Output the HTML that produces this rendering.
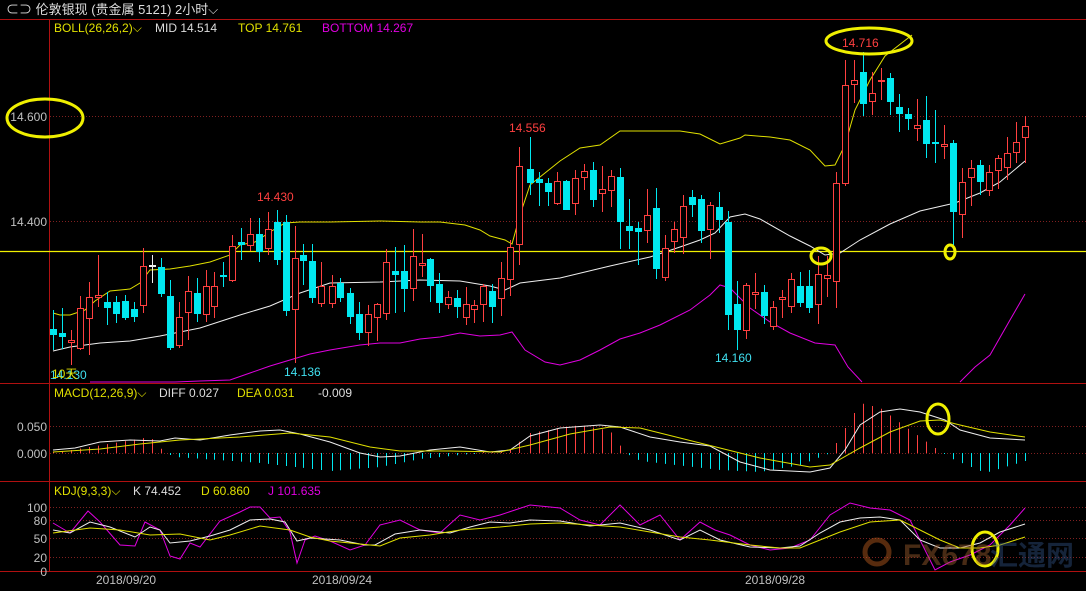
<!DOCTYPE html>
<html><head><meta charset="utf-8"><style>
body{margin:0;background:#000;width:1086px;height:591px;overflow:hidden}
svg{display:block;font-family:"Liberation Sans","Noto Sans CJK SC",sans-serif}
</style></head><body>
<svg id="s" width="1086" height="591" xmlns="http://www.w3.org/2000/svg">
<rect width="1086" height="591" fill="#000"/>
<text x="6" y="14" fill="#ddd" font-size="13">⊂⊃ 伦敦银现 (贵金属 5121)  2小时⌵</text>
<line x1="0" y1="19.5" x2="1086" y2="19.5" stroke="#b01010"/>
<line x1="49.5" y1="19" x2="49.5" y2="572" stroke="#b01010"/>
<line x1="0" y1="383.5" x2="1086" y2="383.5" stroke="#b01010"/>
<line x1="0" y1="481.5" x2="1086" y2="481.5" stroke="#b01010"/>
<line x1="0" y1="571.5" x2="1086" y2="571.5" stroke="#b01010"/>
<g stroke="#802020" stroke-dasharray="1,2">
<line x1="50" y1="116.5" x2="1086" y2="116.5"/><line x1="50" y1="221.5" x2="1086" y2="221.5"/>
<line x1="50" y1="426.5" x2="1086" y2="426.5"/><line x1="50" y1="453.5" x2="1086" y2="453.5"/>
<line x1="50" y1="507.5" x2="1086" y2="507.5"/><line x1="50" y1="520.5" x2="1086" y2="520.5"/>
<line x1="50" y1="538.5" x2="1086" y2="538.5"/><line x1="50" y1="557.5" x2="1086" y2="557.5"/>
</g>
<g font-size="12" fill="#c0c0c0" text-anchor="end">
<text x="47" y="121">14.600</text><text x="47" y="226">14.400</text>
<text x="47" y="431">0.050</text><text x="47" y="458">0.000</text>
<text x="47" y="512">100</text><text x="47" y="525">80</text><text x="47" y="543">50</text><text x="47" y="562">20</text><text x="47" y="576">0</text>
</g>
<g font-size="12" fill="#c0c0c0"><text x="96" y="584">2018/09/20</text><text x="312" y="584">2018/09/24</text><text x="745" y="584">2018/09/28</text></g>
<g font-size="12">
<text x="54" y="32" fill="#e0e000">BOLL(26,26,2)⌵</text><text x="155" y="32" fill="#ddd">MID 14.514</text>
<text x="238" y="32" fill="#e0e000">TOP 14.761</text><text x="322" y="32" fill="#e000e0">BOTTOM 14.267</text>
<text x="54" y="397" fill="#e0e000">MACD(12,26,9)⌵</text><text x="159" y="397" fill="#ddd">DIFF 0.027</text>
<text x="237" y="397" fill="#e0e000">DEA 0.031</text><text x="318" y="397" fill="#ddd">-0.009</text>
<text x="54" y="495" fill="#e0e000">KDJ(9,3,3)⌵</text><text x="133" y="495" fill="#ddd">K 74.452</text>
<text x="201" y="495" fill="#e0e000">D 60.860</text><text x="268" y="495" fill="#e000e0">J 101.635</text>
</g>
<line x1="0" y1="251.5" x2="1086" y2="251.5" stroke="#f0f000" stroke-width="1.3"/>
<g id="g"></g>
<g font-size="12">
<text x="257" y="201" fill="#ff4040">14.430</text><text x="284" y="376" fill="#40e0f0">14.136</text>
<text x="509" y="132" fill="#ff4040">14.556</text><text x="715" y="362" fill="#40e0f0">14.160</text>
<text x="842" y="47" fill="#ff4040">14.716</text>
<text x="50" y="379" fill="#40e0f0">14.130</text><text x="52" y="378" fill="#e0e000">10天</text>
</g>
<g fill="none" stroke="#f0f000" stroke-width="3">
<ellipse cx="45" cy="118" rx="38" ry="19"/><ellipse cx="869" cy="41" rx="43" ry="13"/>
<ellipse cx="821" cy="256" rx="10" ry="8"/><ellipse cx="950" cy="252" rx="5" ry="7"/>
<ellipse cx="938" cy="419" rx="11" ry="15"/><ellipse cx="985" cy="549" rx="13" ry="17"/>
</g>
<g opacity="0.45">
<circle cx="877" cy="552" r="12" fill="none" stroke="#c06020" stroke-width="5"/>
<text x="903" y="565" font-size="30" font-weight="bold" fill="#a06030">FX678</text>
<text x="990" y="565" font-size="28" font-weight="bold" fill="#305080">汇通网</text>
</g>
</svg>
<script>
var g=document.getElementById('g'),NS='http://www.w3.org/2000/svg';
function el(t,a){var e=document.createElementNS(NS,t);for(var k in a)e.setAttribute(k,a[k]);g.appendChild(e);return e;}
function pl(p,c,w){el('polyline',{points:p.map(function(q){return q.join(',')}).join(' '),fill:'none',stroke:c,'stroke-width':w||1});}
var R='#ff4040',C='#00e8f0';
// x, top, bottom, color, hi, lo
var cd=[[53,329,334,C,310,350],[62,333,336,C,308,349],[71,340,342,R,330,365],[80,308,348,R,296,350],[89,297,318,R,282,355],[98,295,297,R,255,307],
[107,302,307,C,292,325],[116,302,313,C,296,323],[125,301,317,C,295,320],[134,309,316,C,302,322],[143,266,305,R,248,313],[152,265,266,'#eee',255,283],
[161,267,293,C,258,297],[170,296,347,C,280,350],[179,317,345,R,302,348],[188,291,312,R,276,340],[197,293,313,C,278,322],[206,286,314,R,270,322],
[214,286,306,R,272,318],[223,275,276,C,262,287],[232,246,280,R,235,282],[241,242,244,C,228,260],[250,234,245,R,218,251],[259,234,251,C,218,262],
[268,229,248,R,212,255],[277,222,259,C,210,265],[286,222,310,C,215,316],[295,258,309,R,226,363],[303,255,260,C,244,285],[312,261,297,C,244,303],
[321,286,303,R,262,307],[332,286,303,R,275,308],[340,283,297,C,278,302],[350,293,316,C,288,324],[359,314,332,C,302,340],[368,314,332,R,305,346],
[377,304,317,R,303,341],[386,262,313,R,249,320],[395,271,274,C,247,313],[404,271,288,C,245,312],[413,256,288,R,229,301],[422,263,265,R,234,277],
[430,259,285,C,258,302],[439,284,302,C,273,313],[448,297,304,R,291,309],[457,298,306,C,290,318],[466,304,317,R,287,325],[474,305,309,R,300,323],
[483,286,304,R,284,322],[492,291,306,C,284,323],[501,278,298,R,262,316],[510,247,279,R,240,296],[519,166,244,R,147,265],[530,169,182,C,137,195],
[539,179,182,C,172,206],[548,183,191,C,178,206],[557,181,203,R,172,205],[566,181,209,C,180,210],[575,178,203,R,170,215],[584,171,177,R,164,190],
[593,170,199,C,162,207],[602,189,193,R,166,212],[611,176,190,R,170,207],[620,177,221,C,168,249],[629,226,230,C,199,249],[638,228,231,C,222,265],
[647,215,230,R,189,243],[656,208,268,C,188,279],[665,248,277,R,235,281],[674,229,241,R,222,253],[683,206,237,R,195,254],[692,197,204,C,190,217],
[701,199,230,C,195,243],[710,205,229,R,202,259],[719,207,219,C,192,233],[728,222,314,C,211,330],[737,304,329,C,281,350],[746,285,330,R,283,339],
[755,292,294,R,273,309],[764,292,315,C,285,324],[773,307,326,R,301,330],[782,297,299,R,290,318],[791,279,306,R,273,313],[800,286,302,C,272,307],
[809,286,307,C,270,313],[818,274,304,R,256,324],[827,275,278,R,256,297],[836,183,281,R,172,308],[845,85,183,R,60,186],[854,80,84,R,60,103],
[863,72,103,C,52,116],[872,93,101,R,72,115],[881,80,80,R,68,100],[890,78,101,C,73,115],[899,107,113,C,94,132],[908,114,118,C,108,130],
[917,125,128,R,99,141],[926,120,143,C,96,158],[935,142,143,C,110,163],[944,144,146,R,125,159],[953,143,211,C,140,245],[962,182,214,R,168,238],
[971,168,177,R,160,206],[980,165,181,C,160,195],[989,172,190,R,165,196],[998,158,170,R,155,189],[1007,153,167,R,137,180],[1016,142,152,R,122,163],[1025,126,137,R,116,163]];
pl([[53,313],[60,315],[70,315],[85,310],[95,301],[110,291],[130,289],[140,283],[150,270],[170,269],[190,266],[210,262],[230,255],[240,245],[255,242],[270,232],[285,223],[300,222],[330,222],[380,221],[420,222],[440,222],[465,225],[480,230],[490,236],[505,240],[512,244],[520,215],[530,185],[545,173],[560,161],[580,148],[600,145],[620,131],[640,131],[680,131],[700,134],[720,144],[740,138],[745,135],[770,137],[790,140],[810,150],[825,166],[835,165],[845,145],[855,110],[870,80],[885,56],[912,35]],'#e0e000');
pl([[53,351],[70,347],[100,343],[130,341],[160,336],[200,328],[240,315],[270,306],[300,293],[330,283],[380,282],[420,280],[460,281],[490,286],[505,290],[520,283],[560,278],[610,266],[650,257],[680,247],[700,240],[715,233],[730,217],[745,214],[760,219],[790,236],[810,246],[825,255],[840,253],[860,240],[890,224],[920,211],[955,203],[980,193],[1000,182],[1025,161]],'#eee');
pl([[90,382],[175,382],[200,381],[230,380],[250,373],[270,366],[290,360],[310,354],[330,350],[360,345],[380,343],[400,343],[420,339],[440,337],[460,333],[480,336],[500,335],[512,332],[525,350],[545,362],[560,365],[580,360],[600,350],[620,339],[640,333],[660,325],[690,310],[710,295],[720,285],[730,288],[750,308],[770,322],[790,333],[815,343],[835,345],[848,367],[862,382]],'#e000e0');
pl([[960,382],[975,367],[990,355],[1010,320],[1025,294]],'#e000e0');
cd.forEach(function(c){var x=c[0],col=c[3];
el('line',{x1:x+.5,y1:c[4],x2:x+.5,y2:c[5],stroke:col});
var h=Math.max(1,c[2]-c[1]);
if(col==R)el('rect',{x:x-2.5,y:c[1]+.5,width:6,height:h,fill:'#000',stroke:R});
else el('rect',{x:x-3,y:c[1],width:7,height:h+1,fill:col});});
// MACD histogram
var hv=function(x){var pts=[[53,0],[150,16],[165,0],[175,-4],[260,-10],[330,-18],[380,-14],[420,-6],[480,0],[505,0],[530,20],[580,28],[610,22],[625,0],[640,-8],[720,-17],[760,-19],[800,-12],[830,0],[845,25],[860,50],[880,45],[900,30],[935,5],[950,-5],[985,-20],[1025,-8]];
for(var i=1;i<pts.length;i++)if(x<=pts[i][0]){var a=pts[i-1],b=pts[i];return a[1]+(b[1]-a[1])*(x-a[0])/(b[0]-a[0]);}return 0;};
cd.forEach(function(c){var v=hv(c[0]);if(Math.abs(v)<1)v=v<0?-1:1;el('line',{x1:c[0]+.5,y1:453,x2:c[0]+.5,y2:453-v,stroke:v>0?R:C});});
pl([[53,450],[75,448],[100,442],[130,440],[160,441],[175,438],[200,440],[230,435],[260,431],[280,430],[300,434],[330,442],[360,453],[380,457],[400,456],[430,450],[460,447],[490,452],[510,450],[530,436],[560,428],[600,425],[620,427],[650,437],[680,442],[710,446],[740,462],[770,470],[810,472],[830,468],[845,450],[860,425],[880,412],[900,409],[920,412],[945,420],[960,430],[990,438],[1025,440]],'#eee');
pl([[53,452],[100,449],[140,444],[180,440],[240,437],[290,433],[330,437],[370,447],[400,451],[450,451],[500,452],[530,445],[570,434],[610,427],[640,428],[680,438],[720,448],[760,458],[810,467],[830,465],[860,448],[890,432],[920,421],[940,420],[960,425],[990,432],[1025,437]],'#e0e000');
pl([[53,523],[70,533],[88,511],[100,522],[120,545],[135,546],[145,522],[160,530],[170,556],[180,559],[190,543],[200,547],[220,521],[240,512],[250,507],[260,507],[270,518],[280,517],[290,532],[297,563],[305,540],[315,536],[330,541],[350,550],[365,545],[380,525],[400,520],[420,530],[440,533],[460,515],[480,520],[500,515],[515,510],[530,505],[560,508],[580,520],[600,525],[620,505],[640,525],[660,515],[680,540],[700,522],[715,530],[730,535],[750,545],[770,550],[790,548],[810,540],[830,515],[850,503],[870,508],[890,510],[910,520],[925,550],[935,570],[950,562],[970,555],[990,545],[1010,525],[1025,508]],'#e000e0');
pl([[53,530],[70,533],[90,522],[110,527],[135,537],[150,527],[160,530],[170,543],[190,541],[210,536],[230,530],[250,520],[270,519],[285,522],[297,541],[310,538],[340,540],[365,545],[375,545],[395,534],[420,530],[450,533],[470,527],[490,522],[510,523],[530,520],[560,521],[590,526],[620,523],[650,530],[680,540],[700,530],[720,540],[750,547],[780,548],[800,546],[820,533],[840,522],[860,518],[880,517],[900,520],[920,540],[940,548],[960,548],[980,543],[1000,532],[1025,524]],'#eee');
pl([[53,533],[90,528],[120,530],[150,535],[180,534],[210,540],[230,535],[260,526],[290,530],[310,537],[330,541],[360,544],[380,546],[400,538],[430,535],[460,530],[500,527],[530,524],[560,523],[590,525],[620,527],[650,532],[680,537],[710,540],[750,545],[780,548],[800,548],[820,540],[840,532],[870,522],[900,520],[920,530],[940,540],[960,548],[980,548],[1000,545],[1025,537]],'#e0e000');
</script>
</body></html>
